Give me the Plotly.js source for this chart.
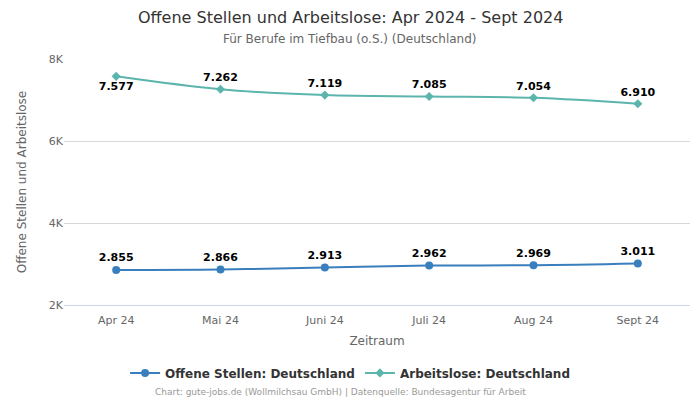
<!DOCTYPE html>
<html><head><meta charset="utf-8">
<script src="https://cdn.plot.ly/plotly-3.0.1.min.js"></script>
<style>html,body{margin:0;padding:0;background:#fff}#c{width:700px;height:400px}</style>
</head><body><div id="c"></div>
<script>
const categories = ["Apr 24","Mai 24","Juni 24","Juli 24","Aug 24","Sept 24"];
const offeneStellen = [2855, 2866, 2913, 2962, 2969, 3011];
const arbeitslose = [7577, 7262, 7119, 7085, 7054, 6910];
const yTickVals = [2000, 4000, 6000, 8000];
const yTickText = ["2K", "4K", "6K", "8K"];
const arbPositions = ["bottom center","top center","top center","top center","top center","top center"];

const font = "DejaVu Sans, sans-serif";
const traces = [
  {x: categories, y: offeneStellen, name: "Offene Stellen: Deutschland", type: "scatter", mode: "lines+markers+text",
   line: {color: "#3a7fbd", width: 2, shape: "spline"}, marker: {color: "#3a7fbd", size: 8, symbol: "circle"},
   texttemplate: "%{y:,.0f}", textposition: "top center", textfont: {family: font, size: 11, color: "#000", weight: "bold"}},
  {x: categories, y: arbeitslose, name: "Arbeitslose: Deutschland", type: "scatter", mode: "lines+markers+text",
   line: {color: "#5cb5ad", width: 2, shape: "spline"}, marker: {color: "#5cb5ad", size: 7, symbol: "diamond"},
   texttemplate: "%{y:,.0f}", textposition: arbPositions, textfont: {family: font, size: 11, color: "#000", weight: "bold"}}
];
const layout = {
  width: 700, height: 400, separators: ",.",
  margin: {l: 64, r: 10, t: 59, b: 95},
  paper_bgcolor: "#fff", plot_bgcolor: "#fff",
  font: {family: font, color: "#666", size: 11},
  xaxis: {type: "category", range: [-0.5, 5.5], showgrid: false, zeroline: false, showline: true, linecolor: "#ccd6eb", linewidth: 1,
          ticks: "", tickfont: {size: 11, color: "#666"}, ticklabelstandoff: 5,
          title: {text: "Zeitraum", font: {size: 12, color: "#666"}, standoff: 10}},
  yaxis: {range: [2000, 8000], tickvals: yTickVals, ticktext: yTickText, showgrid: true, gridcolor: "#d8d8d8", zeroline: false,
          showline: false, tickfont: {size: 11, color: "#666"}, ticks: "", ticklen: 0,
          title: {text: "Offene Stellen und Arbeitslose", font: {size: 12, color: "#666"}, standoff: 19}},
  showlegend: true,
  legend: {orientation: "h", x: 0.457, xanchor: "center", y: -0.276, yanchor: "middle", itemwidth: 30, tracegroupgap: 0,
           font: {size: 12, color: "#333", weight: "bold"}},
  annotations: [
    {text: "Offene Stellen und Arbeitslose: Apr 2024 - Sept 2024", xref: "paper", yref: "paper", x: 0.5, xanchor: "center",
     y: 1.1707, yanchor: "middle", showarrow: false, font: {size: 16, color: "#333"}, xshift: -27},
    {text: "Für Berufe im Tiefbau (o.S.) (Deutschland)", xref: "paper", yref: "paper", x: 0.5, xanchor: "center",
     y: 1.081, yanchor: "middle", showarrow: false, font: {size: 12, color: "#666"}, xshift: -27},
    {text: "Chart: gute-jobs.de (Wollmilchsau GmbH) | Datenquelle: Bundesagentur für Arbeit", xref: "paper", yref: "paper",
     x: 0.5, xanchor: "center", y: -0.354, yanchor: "middle", showarrow: false, font: {size: 9, color: "#999"}, xshift: -37}]
};
Plotly.newPlot("c", traces, layout, {displayModeBar: false, staticPlot: true});
</script></body></html>
